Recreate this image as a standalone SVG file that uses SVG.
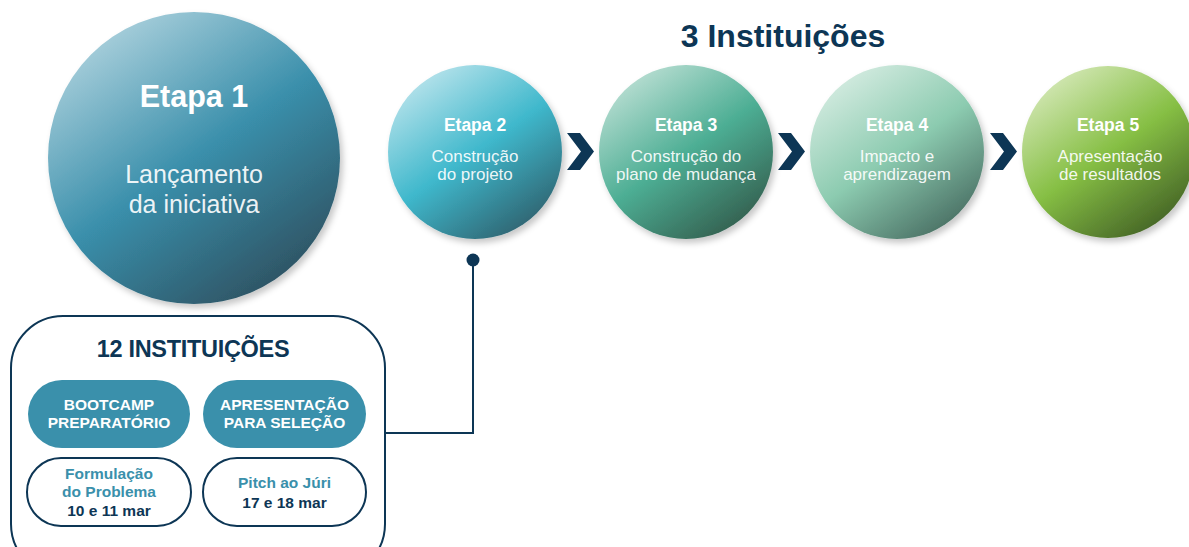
<svg xmlns="http://www.w3.org/2000/svg" width="1189" height="547" viewBox="0 0 1189 547">
<defs>
<style>
.ttl{font-family:"Liberation Sans",Arial,sans-serif;font-weight:bold;fill:#ffffff;text-anchor:middle}
.sub{font-family:"Liberation Sans",Arial,sans-serif;fill:#ffffff;text-anchor:middle;fill-opacity:0.92}
.navy{font-family:"Liberation Sans",Arial,sans-serif;font-weight:bold;fill:#0d3655;text-anchor:middle}
.teal{font-family:"Liberation Sans",Arial,sans-serif;font-weight:bold;fill:#3a90ab;text-anchor:middle}
.pill{fill:#3a90ab}
.opill{fill:#ffffff;stroke:#0d3655;stroke-width:2}
.chev{fill:#0d3655}
</style>
<filter id="sh" x="-20%" y="-20%" width="140%" height="140%">
<feDropShadow dx="3" dy="4" stdDeviation="3" flood-color="#000000" flood-opacity="0.22"/>
</filter>
<linearGradient id="g1" x1="0.15" y1="0" x2="0.85" y2="1">
<stop offset="0" stop-color="#b8d8e2"/><stop offset="0.5" stop-color="#3a8fab"/><stop offset="1" stop-color="#2c4a58"/>
</linearGradient>
<linearGradient id="g2" x1="0.15" y1="0" x2="0.85" y2="1">
<stop offset="0" stop-color="#c6e8ef"/><stop offset="0.5" stop-color="#3fb8cc"/><stop offset="1" stop-color="#2d5864"/>
</linearGradient>
<linearGradient id="g3" x1="0.15" y1="0" x2="0.85" y2="1">
<stop offset="0" stop-color="#c6e4da"/><stop offset="0.5" stop-color="#4dae94"/><stop offset="1" stop-color="#305546"/>
</linearGradient>
<linearGradient id="g4" x1="0.15" y1="0" x2="0.85" y2="1">
<stop offset="0" stop-color="#dcefe6"/><stop offset="0.5" stop-color="#8ccbb0"/><stop offset="1" stop-color="#41645a"/>
</linearGradient>
<linearGradient id="g5" x1="0.15" y1="0" x2="0.85" y2="1">
<stop offset="0" stop-color="#dcecc2"/><stop offset="0.5" stop-color="#86bf44"/><stop offset="1" stop-color="#3c5822"/>
</linearGradient>
</defs>

<text class="navy" x="783" y="47" font-size="32">3 Instituições</text>

<g id="etapa1">
<circle cx="194" cy="158" r="146" fill="url(#g1)" filter="url(#sh)"/>
<text class="ttl" x="194" y="107" font-size="30.5">Etapa 1</text>
<text class="sub" x="194" y="183" font-size="25">Lançamento</text>
<text class="sub" x="194" y="213" font-size="25">da iniciativa</text>
</g>

<g id="etapa2">
<circle cx="475" cy="152" r="87" fill="url(#g2)" filter="url(#sh)"/>
<text class="ttl" x="475" y="131" font-size="17.5">Etapa 2</text>
<text class="sub" x="475" y="162" font-size="17">Construção</text>
<text class="sub" x="475" y="180" font-size="17">do projeto</text>
</g>

<g id="etapa3">
<circle cx="686" cy="152" r="87" fill="url(#g3)" filter="url(#sh)"/>
<text class="ttl" x="686" y="131" font-size="17.5">Etapa 3</text>
<text class="sub" x="686" y="162" font-size="17">Construção do</text>
<text class="sub" x="686" y="180" font-size="17">plano de mudança</text>
</g>

<g id="etapa4">
<circle cx="897" cy="152" r="87" fill="url(#g4)" filter="url(#sh)"/>
<text class="ttl" x="897" y="131" font-size="17.5">Etapa 4</text>
<text class="sub" x="897" y="162" font-size="17">Impacto e</text>
<text class="sub" x="897" y="180" font-size="17">aprendizagem</text>
</g>

<g id="etapa5">
<circle cx="1108" cy="152" r="86" fill="url(#g5)" filter="url(#sh)"/>
<text class="ttl" x="1108" y="131" font-size="17.5">Etapa 5</text>
<text class="sub" x="1110" y="162" font-size="17">Apresentação</text>
<text class="sub" x="1110" y="180" font-size="17">de resultados</text>
</g>

<g id="connectors">
<polygon class="chev" points="567,133 580,133 594,151.5 580,170 567,170 581,151.5"/>
<polygon class="chev" points="778,133 791,133 805,151.5 791,170 778,170 792,151.5"/>
<polygon class="chev" points="990,133 1003,133 1017,151.5 1003,170 990,170 1004,151.5"/>
<circle cx="473" cy="260" r="6.5" fill="#0d3655"/>
<polyline points="473,260 473,433 385,433" fill="none" stroke="#0d3655" stroke-width="2"/>
</g>

<g id="grupo12">
<rect x="11" y="316" width="374" height="260" rx="52" ry="52" fill="none" stroke="#0d3655" stroke-width="2"/>
<text class="navy" x="193" y="357" font-size="23.5" letter-spacing="-0.3">12 INSTITUIÇÕES</text>
</g>

<g id="bootcamp">
<rect class="pill" x="28" y="380" width="162" height="68" rx="34"/>
<text class="ttl" x="109" y="410" font-size="15.5">BOOTCAMP</text>
<text class="ttl" x="109" y="428" font-size="15.5">PREPARATÓRIO</text>
</g>

<g id="apresentacao">
<rect class="pill" x="203" y="380" width="163" height="68" rx="34"/>
<text class="ttl" x="284.5" y="410" font-size="15.5">APRESENTAÇÃO</text>
<text class="ttl" x="284.5" y="428" font-size="15.5">PARA SELEÇÃO</text>
</g>

<g id="formulacao">
<rect class="opill" x="27" y="458" width="164" height="68" rx="34"/>
<text class="teal" x="109" y="479" font-size="15.5">Formulação</text>
<text class="teal" x="109" y="497" font-size="15.5">do Problema</text>
<text class="navy" x="109" y="516" font-size="15.5">10 e 11 mar</text>
</g>

<g id="pitch">
<rect class="opill" x="203" y="458" width="163" height="68" rx="34"/>
<text class="teal" x="284.5" y="488" font-size="15.5">Pitch ao Júri</text>
<text class="navy" x="284.5" y="508" font-size="15.5">17 e 18 mar</text>
</g>
</svg>
